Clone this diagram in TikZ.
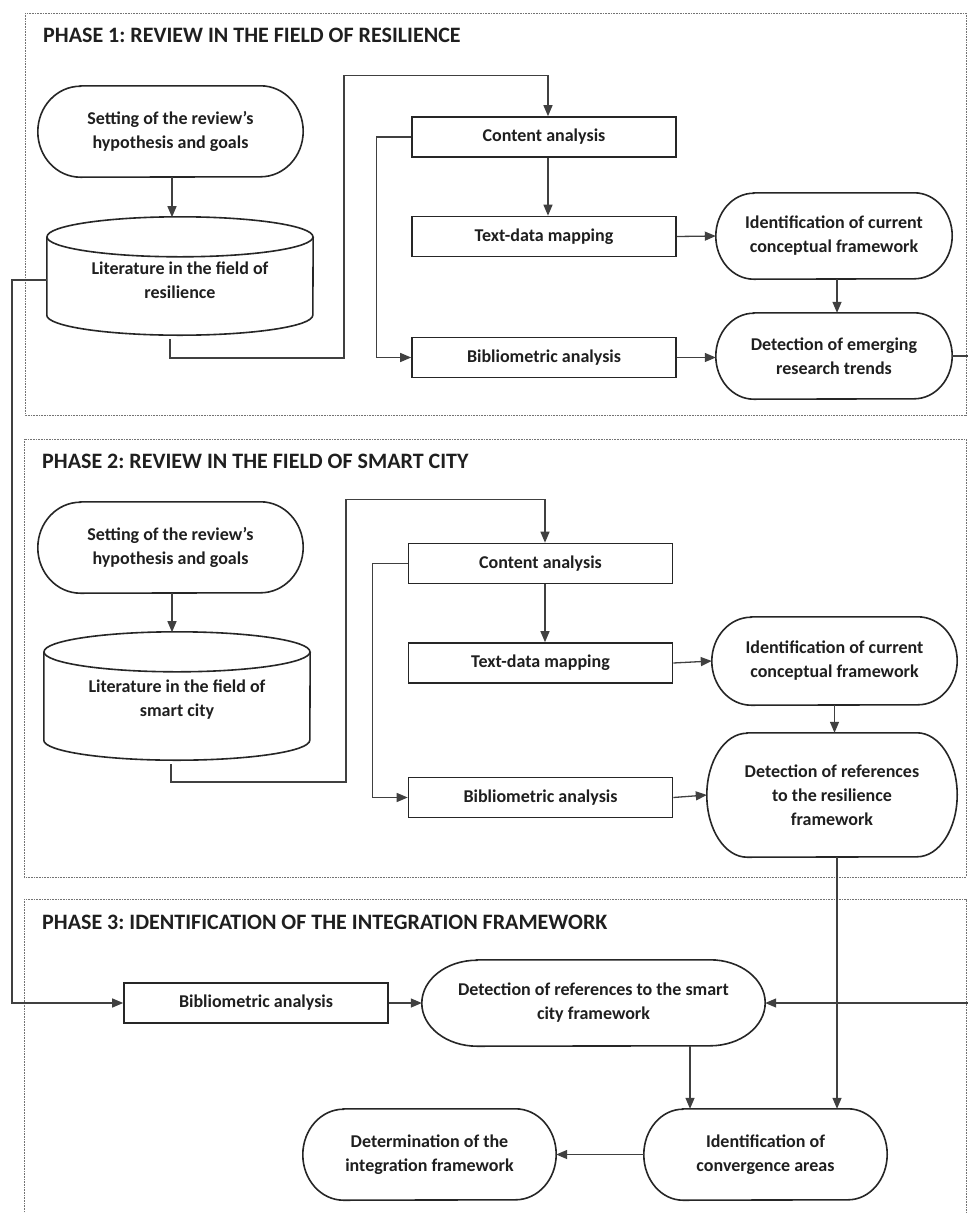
\documentclass[tikz,border=0pt]{standalone}
\usepackage{fontspec}
\setmainfont{Carlito}
\frenchspacing
\usetikzlibrary{arrows.meta,calc}
\tikzset{
  x=1pt,y=1pt,
  frame/.style={draw=black!55, line width=0.8pt, dash pattern=on 0.8pt off 0.8pt},
  phasetitle/.style={anchor=base west, font=\fontsize{22}{26}\selectfont\bfseries, text=black!88, inner sep=0},
  txt/.style={font=\fontsize{18}{24}\selectfont\bfseries, text=black!88, align=center},
  procbox/.style={txt, draw=black!85, line width=1.6pt, minimum height=40pt, minimum width=264pt, inner sep=0},
  termbox/.style={txt, inner sep=0},
  termline/.style={draw=black!85, line width=1.6pt},
  conn/.style={draw=black!75, line width=1.3pt, -{Triangle[length=11pt,width=9pt]}},
}
\newcommand\termnode[6]{%
  \node[termbox, minimum width=#4pt, minimum height=#5pt] (#1) at (#2,-#3) {#6};
  \pgfmathsetmacro\termrx{0.161*#4}%
  \pgfmathsetmacro\termry{#5/2}%
  \draw[termline] ([xshift=\termrx pt]#1.north west) -- ([xshift=-\termrx pt]#1.north east)
    arc[start angle=90,end angle=-90,x radius=\termrx pt,y radius=\termry pt]
    -- ([xshift=\termrx pt]#1.south west)
    arc[start angle=270,end angle=90,x radius=\termrx pt,y radius=\termry pt] -- cycle;
}
\newcommand\cylnode[6]{%
  \pgfmathsetmacro\cylcy{#3+#5/2+4}%
  \pgfmathsetmacro\cylrx{#4/2}%
  \node[txt, minimum width=#4pt, minimum height=#5pt, inner sep=0] (#1) at (#2,-\cylcy) {#6};
  \draw[termline] ([yshift=-16pt]#1.north west) -- ([yshift=24pt]#1.south west)
    arc[start angle=180,end angle=360,x radius=\cylrx pt,y radius=20pt] -- ([yshift=-16pt]#1.north east);
  \draw[termline] ([yshift=-16pt]#1.north) ellipse[x radius=\cylrx pt, y radius=20pt];
}
\begin{document}
\begin{tikzpicture}
\useasboundingbox (0,0) rectangle (968,-1213);
\clip (0,0) rectangle (968,-1213);
\fill[white] (0,0) rectangle (968,-1213);

% frames
\draw[frame] (25,-13) rectangle (966,-415);
\draw[frame] (24,-439) rectangle (966,-877);
\draw[frame] (24,-899) rectangle (966,-1240);

\node[phasetitle] (t1) at (43,-42) {PHASE 1: REVIEW IN THE FIELD OF RESILIENCE};
\node[phasetitle] (t2) at (42,-468) {PHASE 2: REVIEW IN THE FIELD OF SMART CITY};
\node[phasetitle] (t3) at (42,-929) {PHASE 3: IDENTIFICATION OF THE INTEGRATION FRAMEWORK};

% phase 1
\termnode{set1}{170.5}{131.5}{265}{91}{Setting of the review’s\\hypothesis and goals}
\cylnode{lit1}{180}{217}{266}{118}{Literature in the field of\\resilience}
\node[procbox] (ca1) at (544,-137) {Content analysis};
\node[procbox] (tdm1) at (544,-236.5) {Text-data mapping};
\node[procbox] (bib1) at (544,-357.5) {Bibliometric analysis};
\termnode{id1}{834}{236}{236}{86}{Identification of current\\conceptual framework}
\termnode{det1}{834}{356}{236}{86}{Detection of emerging\\research trends}

% phase 2
\termnode{set2}{170.5}{547.5}{265}{91}{Setting of the review’s\\hypothesis and goals}
\cylnode{lit2}{177}{632}{266}{128}{Literature in the field of\\smart city}
\node[procbox] (ca2) at (540.5,-563.5) {Content analysis};
\node[procbox] (tdm2) at (540.5,-663) {Text-data mapping};
\node[procbox] (bib2) at (540.5,-797.5) {Bibliometric analysis};
\termnode{id2}{834.5}{661}{245}{88}{Identification of current\\conceptual framework}
\termnode{det2}{832}{795}{250}{124}{Detection of references\\to the resilience\\framework}

% phase 3
\node[procbox] (bib3) at (256,-1003) {Bibliometric analysis};
\termnode{det3}{593.5}{1003}{343}{86}{Detection of references to the smart\\city framework}
\termnode{conv}{765.5}{1154.5}{243}{91}{Identification of\\convergence areas}
\termnode{detint}{429.5}{1154.5}{253}{91}{Determination of the\\integration framework}

% connectors phase 1
\draw[conn] ([xshift=1.5pt]set1.south) -- ++(0,-40);
\draw[conn] ([xshift=-10pt]lit1.south) |- (344,-358) |- ($(ca1.north)+(4,41)$) -- ([xshift=4pt]ca1.north);
\draw[conn] (ca1.west) -- ++(-35,0) |- (bib1.west);
\draw[conn] ([xshift=4pt]ca1.south) -- ([xshift=4pt]tdm1.north);
\draw[conn] (tdm1.east) -- (id1.west);
\draw[conn] (bib1.east) -- (bib1.east -| det1.west);
\draw[conn] ([xshift=3pt]id1.south) -- ([xshift=3pt]det1.north);

% connectors phase 2
\draw[conn] ([xshift=1.5pt]set2.south) -- ++(0,-39);
\draw[conn] ([xshift=-6pt]lit2.south) |- (346,-782) |- ($(ca2.north)+(4.5,43)$) -- ([xshift=4.5pt]ca2.north);
\draw[conn] (ca2.west) -- ++(-35,0) |- (bib2.west);
\draw[conn] ([xshift=4.5pt]ca2.south) -- ([xshift=4.5pt]tdm2.north);
\draw[conn] (tdm2.east) -- (id2.west);
\draw[conn] (bib2.east) -- (det2.west);
\draw[conn] (id2.south) -- (id2.south |- det2.north);
\draw[conn] ([xshift=5pt]det2.south) -- ([xshift=5pt]det2.south |- conv.north);

% connectors phase 3
\draw[conn] (lit1.west) -- (12,-280) |- (bib3.west);
\draw[conn] (det1.east) -- ++(40,0) |- (det3.east);
\draw[conn] (bib3.east) -- (det3.west);
\draw[conn] ([xshift=96.5pt]det3.south) -- ([xshift=96.5pt]det3.south |- conv.north);
\draw[conn] (conv.west) -- (detint.east);
\end{tikzpicture}
\end{document}
